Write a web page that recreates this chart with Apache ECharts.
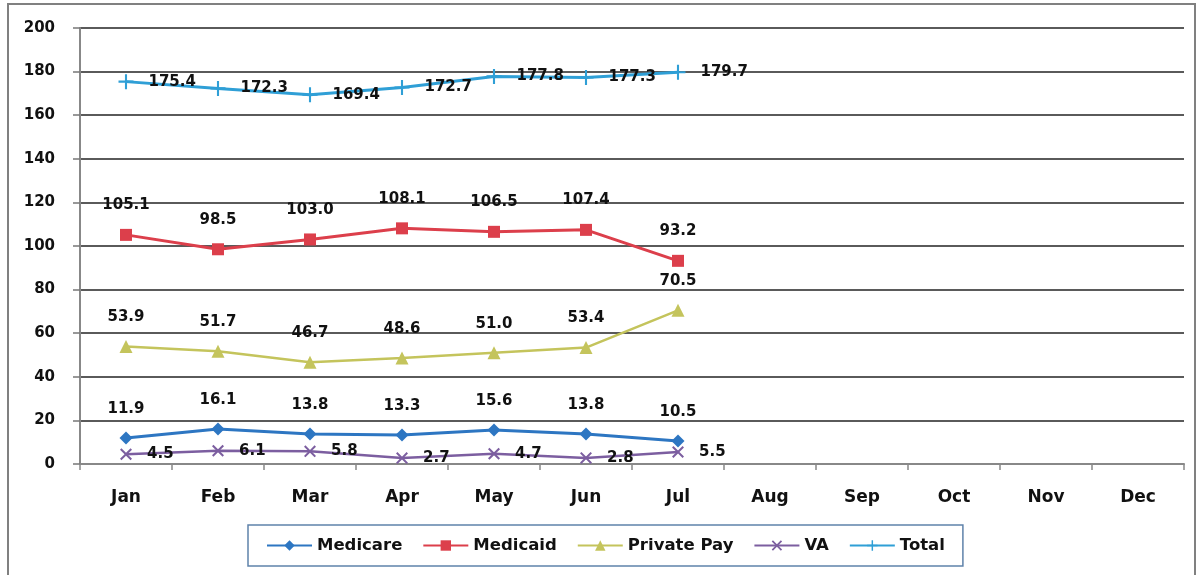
<!DOCTYPE html>
<html>
<head>
<meta charset="utf-8">
<script src="https://cdn.jsdelivr.net/npm/echarts@6/dist/echarts.min.js"></script>
<style>
  html, body { margin: 0; padding: 0; background: #fff; }
  #chart { width: 1200px; height: 575px; }
</style>
</head>
<body>
<div id="chart"></div>
<script>
// Monthly census by payer source
const months = ['Jan', 'Feb', 'Mar', 'Apr', 'May', 'Jun', 'Jul', 'Aug', 'Sep', 'Oct', 'Nov', 'Dec'];
const medicare   = [11.9, 16.1, 13.8, 13.3, 15.6, 13.8, 10.5];
const medicaid   = [105.1, 98.5, 103.0, 108.1, 106.5, 107.4, 93.2];
const privatePay = [53.9, 51.7, 46.7, 48.6, 51.0, 53.4, 70.5];
const va         = [4.5, 6.1, 5.8, 2.7, 4.7, 2.8, 5.5];
const total      = [175.4, 172.3, 169.4, 172.7, 177.8, 177.3, 179.7];

const FONT = 'DejaVu Sans';
const crossX = 'path://M0,1.2 L1.2,0 L5,3.8 L8.8,0 L10,1.2 L6.2,5 L10,8.8 L8.8,10 L5,6.2 L1.2,10 L0,8.8 L3.8,5 Z';
const plus = 'path://M4.3,0 H5.7 V4.3 H10 V5.7 H5.7 V10 H4.3 V5.7 H0 V4.3 H4.3 Z';

function lineSeries(name, data, color, symbol, size, width, labelPos, labelDist) {
  return {
    name: name,
    type: 'line',
    data: data,
    symbol: symbol,
    symbolSize: size,
    itemStyle: { color: color },
    lineStyle: { color: color, width: width },
    z: 3,
    label: {
      show: true,
      position: labelPos,
      distance: labelDist,
      color: '#111',
      fontFamily: FONT,
      fontWeight: 'bold',
      fontSize: 15,
      formatter: p => p.value.toFixed(1)
    }
  };
}

const chart = echarts.init(document.getElementById('chart'));
chart.setOption({
  animation: false,
  backgroundColor: '#fff',
  graphic: [{
    type: 'rect',
    shape: { x: 8, y: 4, width: 1187, height: 600 },
    style: { fill: 'none', stroke: '#808080', lineWidth: 2 },
    silent: true,
    z: -1
  }],
  grid: { left: 80, right: 16, top: 28, bottom: 111, containLabel: false },
  legend: {
    left: 248,
    top: 525,
    padding: [12, 18],
    borderColor: '#5f82aa',
    borderWidth: 1.5,
    itemWidth: 45,
    itemHeight: 13,
    itemGap: 20,
    textStyle: { fontFamily: FONT, fontWeight: 'bold', fontSize: 16.5, color: '#111' },
    data: ['Medicare', 'Medicaid', 'Private Pay', 'VA', 'Total']
  },
  xAxis: {
    type: 'category',
    data: months,
    boundaryGap: true,
    axisLine: { lineStyle: { color: '#888', width: 2 } },
    axisTick: { show: true, length: 6, lineStyle: { color: '#888', width: 1.5 } },
    axisLabel: { fontFamily: FONT, fontWeight: 'bold', fontSize: 17, color: '#111', margin: 25 }
  },
  yAxis: {
    type: 'value',
    min: 0,
    max: 200,
    interval: 20,
    axisLine: { show: true, lineStyle: { color: '#888', width: 2 } },
    axisTick: { show: true, length: 7, lineStyle: { color: '#777', width: 1.5 } },
    splitLine: { lineStyle: { color: '#5a5a5a', width: 2 } },
    axisLabel: { fontFamily: FONT, fontWeight: 'bold', fontSize: 15, color: '#111', margin: 25 }
  },
  series: [
    lineSeries('Medicare', medicare, '#2d76c2', 'diamond', 13, 3, 'top', 15),
    lineSeries('Medicaid', medicaid, '#dc3f4b', 'rect', 12, 3, 'top', 16),
    lineSeries('Private Pay', privatePay, '#c4c45c', 'triangle', 13, 2.5, 'top', 15),
    lineSeries('VA', va, '#7c5ea0', crossX, 12, 2.5, 'right', 15),
    lineSeries('Total', total, '#2f9fd6', plus, 15, 3, 'right', 15)
  ]
});
</script>
</body>
</html>
